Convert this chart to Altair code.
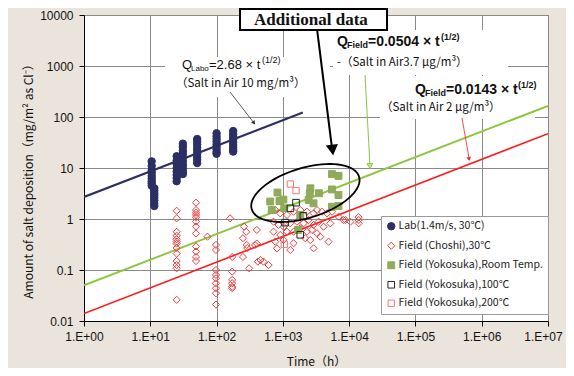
import altair as alt
import pandas as pd
import numpy as np

# ---------------- data ----------------
series = ["Lab(1.4m/s, 30℃)", "Field (Choshi),30℃", "Field (Yokosuka),Room Temp.",
          "Field (Yokosuka),100℃", "Field (Yokosuka),200℃"]

lab_t = [10.5, 10.5, 10.5, 10.5, 10.5, 10.5, 10.5, 10.5, 10.5,
         11.5, 11.5, 11.5, 11.5, 11.5, 11.5, 11.5, 11.5,
         25, 25, 25, 25, 25, 25, 25, 25,
         31, 31, 31, 31, 31, 31, 31, 31, 31, 31,
         51, 51, 51, 51, 51, 51, 51, 51, 51,
         100, 100, 100, 100, 100, 100, 100, 100, 100,
         178, 178, 178, 178, 178, 178, 178, 178, 178]
lab_q = [13.5, 11, 9, 8, 7, 6.2, 5.5, 5, 4.5,
         4, 3.6, 3.2, 2.9, 2.6, 2.3, 2.0, 1.8,
         17, 14, 12, 10, 8.5, 7.3, 6.3, 5.5,
         30, 26, 22, 19, 16, 13.5, 11.5, 9.8, 8.5, 7.6,
         37, 33, 29, 25, 22, 19, 16.5, 14.5, 12.5,
         48, 42, 37, 33, 29, 26, 23, 20.5, 19,
         53, 46, 41, 36, 32, 28, 25, 22.5, 21]

choshi_t = [25, 25, 25, 25, 25, 25, 25, 25, 25, 25, 25, 25, 25,
            49, 49, 49, 49, 49, 49, 49, 49, 49, 49, 49, 49,
            73,
            98, 98, 98, 98, 98, 98, 98, 98, 98,
            160,
            172, 172, 172, 172, 172, 172,
            250, 260, 280, 250, 285, 290, 310,
            405, 420, 405, 380, 460, 510, 610,
            768, 914, 1153, 1452, 1832, 2311, 2910, 3273, 3897, 4637, 5518,
            724, 861, 1026, 1294, 1633, 2055, 2445, 2910, 3460, 4120, 5200,
            724, 914, 1153, 1452, 1832, 2311, 2752, 3273,
            768, 1026, 1452, 2178, 2594, 3672, 4899,
            814, 1294, 2910,
            6938, 8766, 10430, 13920, 13920, 8200, 13900]
choshi_q = [1.45, 1.03, 0.56, 0.47, 0.40, 0.36, 0.33, 0.27, 0.21, 0.15, 0.125, 0.108, 0.026,
            2.09, 1.50, 1.33, 1.20, 1.08, 0.89, 0.71, 0.52, 0.29, 0.23, 0.18, 0.15,
            0.45,
            0.31, 0.247, 0.1, 0.08, 0.069, 0.055, 0.044, 0.035, 0.021,
            1.03,
            0.18, 0.093, 0.064, 0.055, 0.047, 0.044,
            0.18, 0.71, 0.56, 0.42, 0.31, 0.27, 0.108,
            0.33, 0.146, 0.61, 0.31, 0.157, 0.146, 0.125,
            1.50, 1.29, 1.20, 1.39, 1.50, 1.39, 1.29, 1.50, 1.39, 1.29, 1.39,
            0.885, 0.763, 0.706, 0.823, 0.885, 0.823, 0.955, 0.763, 0.885, 0.706, 0.823,
            0.564, 0.486, 0.564, 0.564, 0.657, 0.564, 0.609, 0.525,
            0.359, 0.388, 0.334, 0.419, 0.388, 0.450, 0.359,
            0.266, 0.247, 0.266,
            1.11, 0.955, 0.885, 0.955, 0.823, 0.955, 1.09]

yrt_t = [830, 1020, 645, 890, 1050, 680, 2600, 2550, 2450, 2900, 3500,
         5500, 6900, 5500, 6900, 5500, 6900, 1830, 1700]
yrt_q = [3.3, 2.4, 2.2, 2.25, 1.62, 1.5, 4.0, 3.2, 2.36, 2.03, 3.2,
         7.6, 7.0, 3.8, 2.95, 1.74, 1.8, 1.2, 0.61]

y100_t = [1300, 1580, 2040, 1080, 1830]
y100_q = [1.62, 2.09, 1.15, 0.85, 0.49]

y200_t = [1300, 1580, 1050]
y200_q = [4.85, 3.6, 0.32]

# fitted lines (end points)
lab_line_t, lab_line_q = [1, 2000], [2.7, 122]
rt_line_t, rt_line_q = [1, 1e7], [0.05, 165]
ch_line_t, ch_line_q = [1, 1e7], [0.014, 47]

x_ticks = [1, 10, 100, 1e3, 1e4, 1e5, 1e6, 1e7]
y_ticks = [0.01, 0.1, 1, 10, 100, 1000, 10000]

# ---------------- tables ----------------
pts = pd.concat([
    pd.DataFrame({"t": lab_t, "q": lab_q, "s": series[0]}),
    pd.DataFrame({"t": choshi_t, "q": choshi_q, "s": series[1]}),
    pd.DataFrame({"t": yrt_t, "q": yrt_q, "s": series[2]}),
    pd.DataFrame({"t": y100_t, "q": y100_q, "s": series[3]}),
    pd.DataFrame({"t": y200_t, "q": y200_q, "s": series[4]}),
], ignore_index=True)

lines = pd.concat([
    pd.DataFrame({"t": lab_line_t, "q": lab_line_q, "k": "lab"}),
    pd.DataFrame({"t": rt_line_t, "q": rt_line_q, "k": "rt"}),
    pd.DataFrame({"t": ch_line_t, "q": ch_line_q, "k": "ch"}),
], ignore_index=True)

# ellipse annotation (in log space)
th = np.linspace(0, 2 * np.pi, 73)
ell = pd.DataFrame({
    "t": 10 ** (3.34 + 0.81 * np.cos(th) + 0.11 * np.sin(th)),
    "q": 10 ** (0.51 + 0.32 * np.cos(th) - 0.47 * np.sin(th)),
    "o": np.arange(len(th)),
})

W, H = 464, 306
OX, OY = 84, 15  # plot origin on page
BG = "#ebe4dd"
NAVY = "#2b2f63"
one = alt.Data(values=[{"a": 1}])

xs = alt.Scale(type="log", domain=[1, 1e7])
ys = alt.Scale(type="log", domain=[0.01, 10000])

X = alt.X("t:Q", scale=xs, axis=alt.Axis(
    values=x_ticks, labelExpr="'1.E+0' + round(log(datum.value)/LN10)",
    title="Time（h）", grid=True, gridColor="#8a8a8a", gridWidth=1,
    domainColor="#000", tickColor="#000", tickSize=5, labelPadding=5,
    labelOffset={"condition": {"test": "datum.value >= 1e7", "value": -5}, "value": 0},
    labelFont="Liberation Sans", labelFontSize=12, labelColor="#111",
    titleFont="Noto Sans CJK JP", titleFontSize=12, titleFontWeight="normal",
    titleColor="#111", titleY=40, titleBaseline="middle", labelFlush=False))
Y = alt.Y("q:Q", scale=ys, axis=alt.Axis(
    values=y_ticks, labelExpr="format(datum.value, '~g')",
    title="Amount of salt deposition（mg/m² as Cl⁻）", grid=True,
    gridColor="#8a8a8a", gridWidth=1, domainColor="#000", tickColor="#000",
    tickSize=5, labelPadding=6, labelFont="Liberation Sans", labelFontSize=12,
    labelColor="#111", titleFont="Noto Sans CJK JP", titleFontSize=12,
    titleFontWeight="normal", titleColor="#111", titleX=-56, titleY=163,
    titleAngle=-90, titleBaseline="middle", labelFlush=False))


def box(x1, y1, x2, y2, fill="white", stroke=None, sw=0):
    kw = dict(fill=fill)
    if stroke:
        kw.update(stroke=stroke, strokeWidth=sw)
    return alt.Chart(one).mark_rect(**kw).encode(
        x=alt.value(x1 - OX), x2=alt.value(x2 - OX),
        y=alt.value(y1 - OY), y2=alt.value(y2 - OY))


def seg(x1, y1, x2, y2, color, sw):
    return alt.Chart(one).mark_rule(color=color, strokeWidth=sw).encode(
        x=alt.value(x1 - OX), x2=alt.value(x2 - OX),
        y=alt.value(y1 - OY), y2=alt.value(y2 - OY))


def head(x, y, color, size, angle, filled=True):
    return alt.Chart(one).mark_point(shape="triangle-down", filled=filled, color=color,
                                     size=size, angle=angle, opacity=1,
                                     strokeWidth=1).encode(
        x=alt.value(x - OX), y=alt.value(y - OY))


def txt(s, x, y, size=12, font="Noto Sans CJK JP", weight="normal", color="#111"):
    return alt.Chart(one).mark_text(text=s, align="left", baseline="middle",
                                    font=font, fontSize=size, fontWeight=weight,
                                    color=color).encode(
        x=alt.value(x - OX), y=alt.value(y - OY))


base = alt.Chart(pts)

# white label backgrounds (hide grid lines)
bgs = [box(165, 57, 330, 97), box(333, 30, 508, 75), box(380, 76, 535, 119)]

fit = alt.Chart(lines).mark_line(clip=True).encode(
    x=X, y=Y, detail="k:N",
    color=alt.Color("k:N", scale=alt.Scale(domain=["lab", "rt", "ch"],
                                           range=[NAVY, "#8cc63f", "#ff1a1a"]), legend=None),
    strokeWidth=alt.StrokeWidth("k:N", scale=alt.Scale(domain=["lab", "rt", "ch"],
                                                       range=[2.2, 1.6, 1.6]), legend=None))

points = base.mark_point(opacity=1, strokeWidth=1).encode(
    x=X, y=Y,
    shape=alt.Shape("s:N", scale=alt.Scale(domain=series,
                    range=["circle", "diamond", "square", "square", "square"]),
                    legend=alt.Legend(title=None, orient="none", legendX=297, legendY=201,
                                      fillColor="white", strokeColor="#9a9a9a",
                                      padding=5, rowPadding=7.5, labelOffset=2,
                                      labelFont="Noto Sans CJK JP", labelFontSize=10.5,
                                      labelColor="#222", labelLimit=400,
                                      symbolStrokeWidth=1)),
    fill=alt.Fill("s:N", scale=alt.Scale(domain=series,
                  range=[NAVY, "transparent", "#8fab5b", "transparent", "transparent"])),
    stroke=alt.Stroke("s:N", scale=alt.Scale(domain=series,
                      range=[NAVY, "#f03c3c", "#8fab5b", "#222222", "#f07878"])),
    size=alt.Size("s:N", scale=alt.Scale(domain=series, range=[55, 40, 38, 32, 32])),
)

ellipse = alt.Chart(ell).mark_line(color="#000", strokeWidth=1.8).encode(
    x=X, y=Y, order="o:Q")

annot = [
    # Additional data box + arrow
    seg(317, 29, 332, 148, "#000", 2),
    head(332.5, 150, "#000", 150, 353),
    box(240, 9, 387, 30, fill="white", stroke="#000", sw=2),
    txt("Additional data", 254, 19.5, size=17, font="Liberation Serif", weight="bold"),
    # lab label
    seg(230, 92, 254, 123, "#333", 0.8),
    head(254, 123, "#333", 20, 322),
    txt("Q", 182, 65, 13, "Liberation Sans"),
    txt("Labo", 191, 69, 8, "Liberation Sans"),
    txt("=2.68 × t", 209, 65, 13, "Liberation Sans"),
    txt("(1/2)", 262, 60, 9, "Liberation Sans"),
    txt("（Salt in Air 10 mg/m³）", 176, 84, 11.5),
    # field 1
    seg(365, 75, 370, 166, "#8cc63f", 1),
    head(370, 166, "#8cc63f", 30, 357, filled=False),
    txt("Q", 337, 42, 14, "Liberation Sans", "bold"),
    txt("Field", 347, 45, 9, "Liberation Sans", "bold"),
    txt("=0.0504 × t", 368, 42, 14, "Liberation Sans", "bold"),
    txt("(1/2)", 441, 37, 9, "Liberation Sans", "bold"),
    txt("-（Salt in Air3.7 μg/m³）", 337, 63, 11.5),
    # field 2
    seg(462, 118, 469, 158, "#ff1a1a", 0.8),
    head(469, 159, "#ff1a1a", 20, 350),
    txt("Q", 415, 90, 14, "Liberation Sans", "bold"),
    txt("Field", 425, 93, 9, "Liberation Sans", "bold"),
    txt("=0.0143 × t", 446, 90, 14, "Liberation Sans", "bold"),
    txt("(1/2)", 518, 85, 9, "Liberation Sans", "bold"),
    txt("（Salt in Air 2 μg/m³）", 381, 108, 11.5),
]

chart = alt.layer(*bgs, fit, points, ellipse, *annot).resolve_scale(
    color="independent", stroke="independent", fill="independent",
    shape="independent", size="independent", strokeWidth="independent"
).properties(
    width=W, height=H, background=BG,
    autosize=alt.AutoSizeParams(type="none"),
    padding={"left": 76, "top": 7, "right": 18, "bottom": 47},
).configure_view(fill="white", stroke="#555", strokeWidth=1)

chart.save("out.html", embed_options={"renderer": "svg", "actions": False})
